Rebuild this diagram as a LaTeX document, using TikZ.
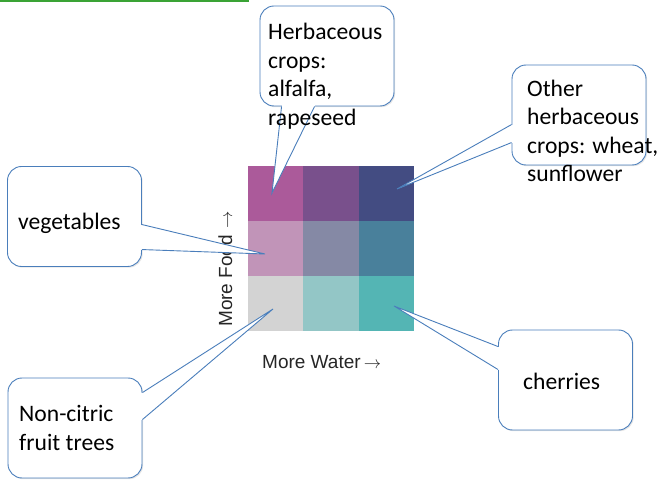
\documentclass[tikz,border=0pt]{standalone}
\usepackage{fontspec}
\usetikzlibrary{shadows}
\newfontfamily\calibri{Carlito}
\newfontfamily\arial{Liberation Sans}
\definecolor{calloutblue}{HTML}{4A7EBB}
\definecolor{rulegreen}{HTML}{3AA335}
\definecolor{foodA}{HTML}{AB5A9A}
\definecolor{foodB}{HTML}{79508C}
\definecolor{foodC}{HTML}{434C82}
\definecolor{midA}{HTML}{C194B8}
\definecolor{midB}{HTML}{8589A5}
\definecolor{midC}{HTML}{49809B}
\definecolor{lowA}{HTML}{D3D3D3}
\definecolor{lowB}{HTML}{93C6C6}
\definecolor{lowC}{HTML}{54B5B4}
% pointer of a callout: base point, tip, base point
\newcommand{\calloutptr}[3]{%
  \fill[white] (#1) -- (#2) -- (#3) -- cycle;
  \draw[white, line width=2pt] (#1) -- (#3);
  \draw[ptrline] (#1) -- (#2) -- (#3);
}
\begin{document}
\begin{tikzpicture}[x=1pt, y=-1pt,
    cell/.style={inner sep=0, minimum width=55.6pt, minimum height=55.3pt},
    box/.style={draw=calloutblue, line width=0.9pt, fill=white, rounded corners=14pt,
      minimum width=134pt, minimum height=100pt, inner sep=0,
      drop shadow={shadow xshift=1.2pt, shadow yshift=-1.2pt, opacity=0.2}},
    ptrline/.style={draw=calloutblue, line width=0.9pt, line join=miter},
    boxtext/.style={font=\calibri\fontsize{23.6}{28.5}\selectfont, align=left,
      inner sep=0, anchor=west, text=black},
    axis/.style={font=\arial\fontsize{19}{22}\selectfont, inner sep=0,
      anchor=base west, text=black!85}]
  \useasboundingbox (0,0) rectangle (662,481);
  % TOP RULE
  \coordinate (ruleL) at (0,1);
  \coordinate (ruleR) at (249,1);
  \draw[rulegreen, line width=1.5pt] (ruleL) -- (ruleR);
  % GRID
  \node[cell, fill=foodA] (c11) at (275.7,193.5) {};
  \node[cell, fill=foodB] (c12) at (331.0,193.5) {};
  \node[cell, fill=foodC] (c13) at (386.3,193.5) {};
  \node[cell, fill=midA]  (c21) at (275.7,248.5) {};
  \node[cell, fill=midB]  (c22) at (331.0,248.5) {};
  \node[cell, fill=midC]  (c23) at (386.3,248.5) {};
  \node[cell, fill=lowA]  (c31) at (275.7,303.5) {};
  \node[cell, fill=lowB]  (c32) at (331.0,303.5) {};
  \node[cell, fill=lowC]  (c33) at (386.3,303.5) {};
  % AXIS LABELS
  \node[axis] (water) at (262,368) {More Water\,$\rightarrow$};
  \node[axis, rotate=90] (food) at (232,327) {More Food\,\,$\rightarrow$};
  % CALLOUT: HERBACEOUS
  \node[box] (herb) at (327,56) {};
  \calloutptr{[xshift=22pt]herb.south west}{[xshift=-3.7pt, yshift=0.5pt]c11.center}{[xshift=55pt]herb.south west}
  \node[boxtext] (herbtxt) at (268,76) {Herbaceous\\crops:\\alfalfa,\\rapeseed};
  % CALLOUT: OTHER HERBACEOUS
  \node[box] (other) at (579,115) {};
  \calloutptr{[yshift=-60pt]other.north west}{[xshift=10.7pt, yshift=4.5pt]c13.center}{[yshift=-78pt]other.north west}
  \node[boxtext] (othertxt) at (527,131) {Other\\herbaceous\\crops: wheat,\\sunflower};
  % CALLOUT: VEGETABLES
  \node[box] (veg) at (74.5,216.5) {};
  \calloutptr{[yshift=-58.5pt]veg.north east}{[xshift=-10.7pt, yshift=-5.5pt]c21.center}{[yshift=-83.5pt]veg.north east}
  \node[boxtext] (vegtxt) at (18,223) {vegetables};
  % CALLOUT: FRUIT TREES
  \node[box] (fruit) at (75,428) {};
  \calloutptr{[yshift=-15pt]fruit.north east}{[xshift=-2.7pt, yshift=-5.5pt]c31.center}{[yshift=-42pt]fruit.north east}
  \node[boxtext] (fruittxt) at (19,428) {Non-citric\\fruit trees};
  % CALLOUT: CHERRIES
  \node[box] (cherry) at (565.5,380) {};
  \calloutptr{[yshift=-17pt]cherry.north west}{[xshift=7.7pt, yshift=-2.5pt]c33.center}{[yshift=-40pt]cherry.north west}
  \node[boxtext] (cherrytxt) at (523,381) {cherries};
\end{tikzpicture}
\end{document}
